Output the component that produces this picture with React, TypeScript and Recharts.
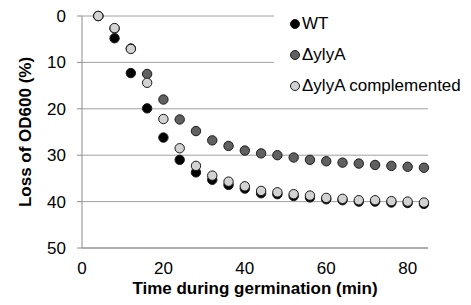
import React from "react";
import {
	ScatterChart,
	Scatter,
	XAxis,
	YAxis,
	CartesianGrid,
	Legend
} from "recharts";

// sampling times (min)
const times = [4, 8, 12, 16, 20, 24, 28, 32, 36, 40, 44, 48, 52, 56, 60, 64, 68, 72, 76, 80, 84];

// loss of OD600 (%)
const wt = [0, 4.8, 12.3, 19.9, 26.2, 31.0, 33.7, 35.3, 36.4, 37.2, 38.2, 38.4, 38.8, 39.1, 39.5, 39.7, 40.0, 40.0, 40.2, 40.3, 40.5];
const ylyA = [0, 2.7, 7.0, 12.5, 18.0, 22.3, 24.8, 26.8, 28.0, 29.0, 29.6, 30.0, 30.5, 31.0, 31.3, 31.6, 31.8, 32.1, 32.3, 32.5, 32.7];
const complemented = [0, 2.6, 7.1, 14.4, 22.2, 28.5, 32.3, 34.4, 35.7, 36.7, 37.7, 38.0, 38.4, 38.7, 39.2, 39.4, 39.7, 39.7, 39.9, 40.0, 40.2];

const seriesNames = ["WT", "ΔylyA", "ΔylyA complemented"];
const seriesColors = ["#000000", "#606060", "#d2d2d2"];

const xTicks = [0, 20, 40, 60, 80];
const yTicks = [0, 10, 20, 30, 40, 50];

const font = "'Liberation Sans', Arial, sans-serif";

const toPoints = (vals: number[]) => times.map((t, i) => ({ x: t, y: vals[i] }));
const seriesData = [toPoints(wt), toPoints(ylyA), toPoints(complemented)];

const Dot = (props: any) => {
	const { cx, cy, fill } = props;
	return <circle cx={cx} cy={cy} r={4.7} fill={fill} stroke="#1a1a1a" strokeWidth={1} />;
};

const LegendBox = () => (
	<div style={{ position: "relative", width: "100%", height: "100%", background: "#fff" }}>
		{seriesNames.map((name, i) => (
			<div
				key={name}
				style={{
					position: "absolute",
					left: 15,
					top: 9 + i * 31,
					height: 20,
					display: "flex",
					alignItems: "center",
					whiteSpace: "nowrap",
					fontFamily: font,
					fontSize: 17,
					color: "#000"
				}}
			>
				<svg width={12} height={12} style={{ marginRight: 1 }}>
					<circle cx={6} cy={6} r={4.5} fill={seriesColors[i]} stroke="#1a1a1a" strokeWidth={1} />
				</svg>
				<span>{name}</span>
			</div>
		))}
	</div>
);

const App = () => {
	return (
		<div style={{ position: "absolute", left: 0, top: 0 }}>
			<ScatterChart
				width={471}
				height={305}
				margin={{ top: 16, right: 43, bottom: 7, left: 0 }}
			>
				<CartesianGrid vertical={false} stroke="#a0a0a0" />
				<XAxis
					type="number"
					dataKey="x"
					domain={[0, 85]}
					ticks={xTicks}
					height={50}
					tickLine={false}
					tickSize={0}
					tickMargin={14}
					axisLine={{ stroke: "#8c8c8c" }}
					tick={{ fill: "#000", fontSize: 17, fontFamily: font }}
					label={{
						value: "Time during germination (min)",
						position: "insideBottom",
						offset: 4,
						style: { fill: "#000", fontSize: 17, fontWeight: "bold", fontFamily: font }
					}}
				/>
				<YAxis
					type="number"
					dataKey="y"
					domain={[0, 50]}
					reversed
					ticks={yTicks}
					width={82}
					tickSize={5}
					tickMargin={11}
					tickLine={{ stroke: "#8c8c8c" }}
					axisLine={{ stroke: "#8c8c8c" }}
					tick={{ fill: "#000", fontSize: 17, fontFamily: font }}
					label={{
						value: "Loss of OD600 (%)",
						angle: -90,
						position: "center",
						dx: -16,
						style: { fill: "#000", fontSize: 17, fontWeight: "bold", fontFamily: font }
					}}
				/>
				<Legend
					layout="horizontal"
					verticalAlign="middle"
					align="center"
					content={<LegendBox />}
					wrapperStyle={{ left: 274, top: 5, width: 197, height: 96 }}
				/>
				{seriesNames.map((name, i) => (
					<Scatter
						key={name}
						name={name}
						data={seriesData[i]}
						fill={seriesColors[i]}
						shape={<Dot />}
						isAnimationActive={false}
					/>
				))}
			</ScatterChart>
		</div>
	);
};

export default App;
